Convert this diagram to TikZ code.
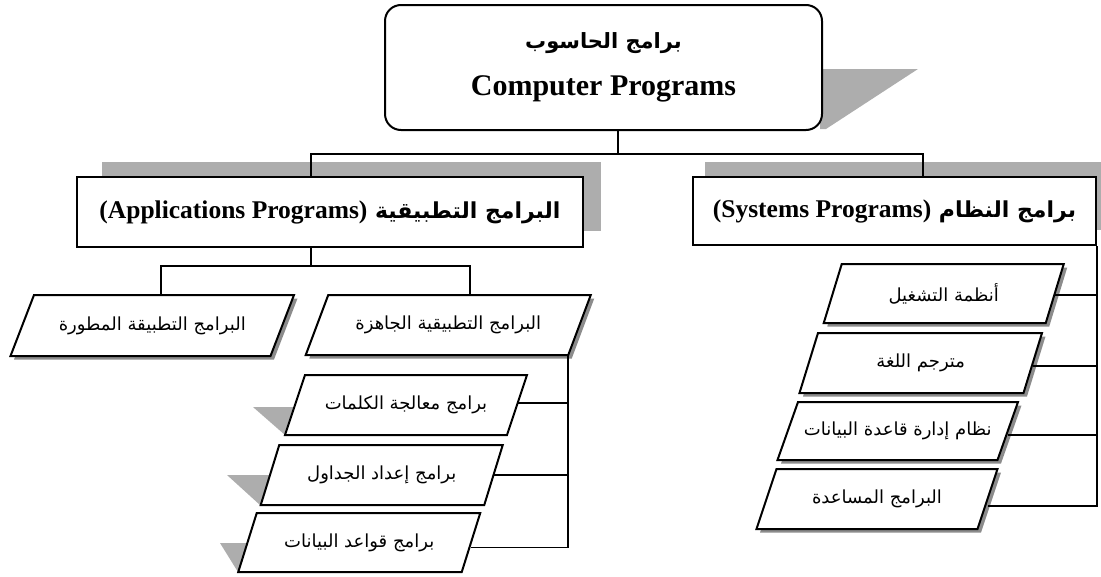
\documentclass[tikz,border=0pt]{standalone}
\usepackage{fontspec}
\setmainfont{Liberation Serif}
\newfontfamily\arabicfont[Script=Arabic]{DejaVu Sans}
\TeXXeTstate=1
\usetikzlibrary{calc}

\definecolor{castgray}{gray}{0.68}
\definecolor{dropgray}{gray}{0.55}

\tikzset{
  frame/.style={draw=black, line width=2pt, fill=white},
  link/.style={draw=black, line width=1.8pt},
  arlabel/.style={font=\arabicfont\fontsize{18}{21}\selectfont, inner sep=0pt},
  dropshade/.style={fill=dropgray, shift={(3.5,3.5)}},
  castshade/.style={fill=castgray},
}

% slanted box: name, cx, cy, mid-width, height, slant, shadow style, text
\newcommand\slantbox[8]{%
  \path[#7] ({#2-#4/2+#6/2},{#3-#5/2}) -- ({#2+#4/2+#6/2},{#3-#5/2})
     -- ({#2+#4/2-#6/2},{#3+#5/2}) -- ({#2-#4/2-#6/2},{#3+#5/2}) -- cycle;
  \path[frame] ({#2-#4/2+#6/2},{#3-#5/2}) -- ({#2+#4/2+#6/2},{#3-#5/2})
     -- ({#2+#4/2-#6/2},{#3+#5/2}) -- ({#2-#4/2-#6/2},{#3+#5/2}) -- cycle;
  \coordinate (#1-br) at ({#2+#4/2-#6/2},{#3+#5/2});
  \node[arlabel, minimum width=#4pt, minimum height=#5pt] (#1) at (#2,#3) {#8};
}

\begin{document}
\begin{tikzpicture}[x=1pt, y=-1pt]
\useasboundingbox (0,0) rectangle (1101,576);

% shadows behind the upper boxes
\fill[castshade] (820,69) -- (918,69) -- (826,129) -- (820,129) -- cycle;
\fill[castshade] (102,162) rectangle (601,231);
\fill[castshade] (705,162) rectangle (1110,230);

% upper boxes
\node[frame, rounded corners=16pt, minimum width=437pt, minimum height=125pt, align=center] (root) at (603.5,67.5)
  {{\arabicfont\bfseries\fontsize{21}{25}\selectfont\beginR برامج الحاسوب\endR}\\[21pt]
   {\bfseries\fontsize{30}{34}\selectfont Computer Programs}};
\node[frame, minimum width=506pt, minimum height=70pt] (apps) at (330,212)
  {\arabicfont\bfseries\fontsize{22}{26}\selectfont\beginR البرامج التطبيقية \beginL{\rmfamily\fontsize{25.5}{29}\selectfont(Applications Programs)}\endL\endR};
\node[frame, minimum width=403pt, minimum height=68pt] (sys) at (894.5,211)
  {\arabicfont\bfseries\fontsize{22}{26}\selectfont\beginR برامج النظام \beginL{\rmfamily\fontsize{25.5}{29}\selectfont(Systems Programs)}\endL\endR};

% application branch
\slantbox{dev}{152.25}{325.5}{260}{61}{23.5}{dropshade}{\beginR البرامج التطبيقة المطورة\endR}
\slantbox{ready}{448.25}{325}{262.5}{60}{22.5}{dropshade}{\beginR البرامج التطبيقية الجاهزة\endR}

\fill[castshade] (253,407) -- (300,407) -- (285,435) -- cycle;
\slantbox{word}{406}{405}{222}{60}{20}{}{\beginR برامج معالجة الكلمات\endR}
\fill[castshade] (227,475) -- (275,475) -- (260,505) -- cycle;
\slantbox{sheet}{381.75}{475}{223.5}{60}{18.5}{}{\beginR برامج إعداد الجداول\endR}
\fill[castshade] (220,543) -- (252,543) -- (238,572) -- cycle;
\slantbox{dbapp}{359.25}{542.5}{223.5}{59}{18.5}{}{\beginR برامج قواعد البيانات\endR}

% system branch
\slantbox{os}{943.75}{293.5}{222}{59}{18}{dropshade}{\beginR أنظمة التشغيل\endR}
\slantbox{lang}{920.75}{363}{224}{60}{18.5}{dropshade}{\beginR مترجم اللغة\endR}
\slantbox{dbms}{897.75}{431}{220}{58}{20.5}{dropshade}{\beginR نظام إدارة قاعدة البيانات\endR}
\slantbox{util}{877}{499}{221}{60}{20}{dropshade}{\beginR البرامج المساعدة\endR}

% connectors
\coordinate (rootbus) at (618,154);
\draw[link] (rootbus |- root.south) -- (rootbus);
\draw[link] ([xshift=-19pt]apps.north) |- (rootbus) -| ([xshift=28.5pt]sys.north);

\coordinate (appsbus) at (311,266);
\draw[link] (appsbus |- apps.south) -- (appsbus);
\draw[link] ([xshift=9pt]dev.north) |- (appsbus) -| ([xshift=22pt]ready.north);

\draw[link] (ready-br) |- ([yshift=-5pt]dbapp.east);
\draw[link] ([yshift=2pt]word.east) -- ([yshift=2pt]word.east -| ready-br);
\draw[link] (sheet.east) -- (sheet.east -| ready-br);

\draw[link] (sys.south east) |- ([yshift=-7pt]util.east);
\draw[link] ([yshift=-1.5pt]os.east) -- ([yshift=-1.5pt]os.east -| sys.south east);
\draw[link] ([yshift=-3pt]lang.east) -- ([yshift=-3pt]lang.east -| sys.south east);
\draw[link] ([yshift=-4pt]dbms.east) -- ([yshift=-4pt]dbms.east -| sys.south east);
\end{tikzpicture}
\end{document}
